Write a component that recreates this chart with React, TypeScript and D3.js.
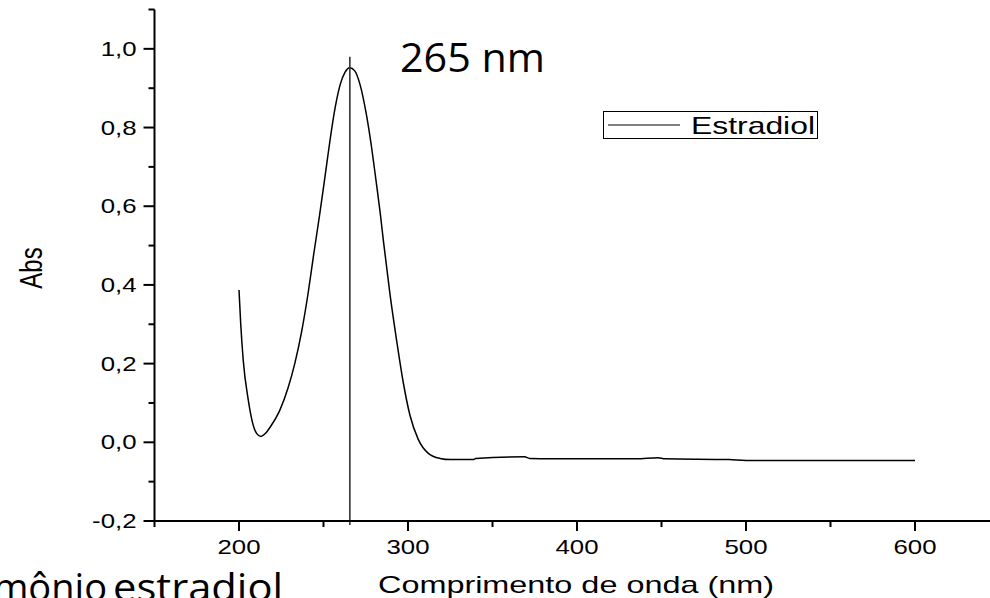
import React from "react";
import * as d3 from "d3";

const wavelength = [200, 201, 202.5, 205.5, 208, 210.5, 213, 215.5, 218.5, 224, 229, 233, 237, 241, 244, 247.5, 250, 252, 254, 257, 260, 262.7, 265.5, 268.5, 271.5, 275.5, 278.5, 281, 283.5, 285.5, 289.3, 293.3, 297.2, 301.2, 306, 312, 319, 325, 339, 340, 369, 372, 385, 435, 448, 452, 490, 500, 600];
const absorbance = [0.387, 0.302, 0.209, 0.107, 0.05, 0.022, 0.015, 0.022, 0.039, 0.08, 0.138, 0.2, 0.28, 0.382, 0.472, 0.572, 0.648, 0.71, 0.772, 0.853, 0.911, 0.94, 0.952, 0.944, 0.911, 0.83, 0.748, 0.668, 0.585, 0.51, 0.378, 0.258, 0.152, 0.068, 0.008, -0.028, -0.041, -0.044, -0.044, -0.041, -0.037, -0.041, -0.042, -0.042, -0.039, -0.042, -0.044, -0.046, -0.046];

const xMajorTicks = [200, 300, 400, 500, 600];
const xMinorTicks = [150, 250, 350, 450, 550, 650];
const yMajorTicks = [-0.2, 0, 0.2, 0.4, 0.6, 0.8, 1.0];
const yMinorTicks = [-0.1, 0.1, 0.3, 0.5, 0.7, 0.9, 1.1];
const peakNm = 265;
const peakLineRange = [-0.21, 0.98];
const seriesName = "Estradiol";
const peakLabel = "265 nm";
const xTitle = "Comprimento de onda (nm)";
const yTitle = "Abs";

const fmt = (v: number) => d3.format(".1f")(v).replace(".", ",").replace("−", "-");

export default function App() {
  const x = d3.scaleLinear().domain([150, 650]).range([154.5, 999.5]);
  const y = d3.scaleLinear().domain([-0.2, 1.1]).range([521, 9.5]);
  const pts: [number, number][] = wavelength.map((w, i) => [w, absorbance[i]]);
  const line = d3
    .line<[number, number]>()
    .x((d) => x(d[0]))
    .y((d) => y(d[1]))
    .curve(d3.curveMonotoneX);
  const sx = 1.29;
  const axisX = x(150);
  const axisY = y(-0.2);
  const arial = "'Liberation Sans', Arial, sans-serif";
  const calibri = "'Open Sans', 'Noto Sans', sans-serif";

  return (
    <svg
      width={990}
      height={598}
      style={{ position: "absolute", left: 0, top: 0, background: "#fff" }}
    >
      <rect x={0} y={0} width={990} height={598} fill="#fff" />
      {/* data curve */}
      <path d={line(pts) || ""} fill="none" stroke="#000" strokeWidth={1.5} />
      {/* peak marker line */}
      <line
        x1={x(peakNm) + 1}
        x2={x(peakNm) + 1}
        y1={y(peakLineRange[0])}
        y2={y(peakLineRange[1])}
        stroke="#333"
        strokeWidth={1.6}
      />
      {/* y axis */}
      <line x1={axisX} x2={axisX} y1={y(1.1)} y2={axisY + 1} stroke="#000" strokeWidth={2} />
      {yMajorTicks.map((t) => (
        <g key={"ym" + t}>
          <line x1={axisX - 11} x2={axisX} y1={y(t)} y2={y(t)} stroke="#000" strokeWidth={2} />
          <g transform={`translate(${axisX - 18},${y(t) + 7}) scale(${sx},1)`}>
            <text textAnchor="end" fontFamily={arial} fontSize={20} fill="#000">
              {fmt(t)}
            </text>
          </g>
        </g>
      ))}
      {yMinorTicks.map((t) => (
        <line key={"yn" + t} x1={axisX - 6} x2={axisX} y1={y(t)} y2={y(t)} stroke="#000" strokeWidth={2} />
      ))}
      {/* x axis */}
      <line x1={axisX - 1} x2={990} y1={axisY} y2={axisY} stroke="#000" strokeWidth={2} />
      {xMajorTicks.map((t) => (
        <g key={"xm" + t}>
          <line x1={x(t)} x2={x(t)} y1={axisY} y2={axisY + 10} stroke="#000" strokeWidth={2} />
          <g transform={`translate(${x(t)},${554}) scale(${sx},1)`}>
            <text textAnchor="middle" fontFamily={arial} fontSize={20} fill="#000">
              {t}
            </text>
          </g>
        </g>
      ))}
      {xMinorTicks.map((t) => (
        <line key={"xn" + t} x1={x(t)} x2={x(t)} y1={axisY} y2={axisY + 6} stroke="#000" strokeWidth={2} />
      ))}
      {/* axis titles */}
      <text
        x={378}
        y={593}
        fontFamily={arial}
        fontSize={24}
        textLength={396}
        lengthAdjust="spacingAndGlyphs"
        fill="#000"
      >
        {xTitle}
      </text>
      <g transform={`translate(42,268) scale(${sx},1) rotate(-90)`}>
        <text textAnchor="middle" fontFamily={arial} fontSize={24} fill="#000">
          {yTitle}
        </text>
      </g>
      {/* legend */}
      <rect x={603.5} y={111.5} width={214} height={27} fill="#fff" stroke="#000" strokeWidth={1} />
      <line x1={608} x2={680} y1={125} y2={125} stroke="#000" strokeWidth={1.2} />
      <text
        x={691}
        y={134}
        fontFamily={arial}
        fontSize={24.6}
        textLength={124}
        lengthAdjust="spacingAndGlyphs"
        fill="#000"
      >
        {seriesName}
      </text>
      {/* peak annotation */}
      <text
        x={400}
        y={72}
        fontFamily={calibri}
        fontSize={40}
        textLength={145}
        lengthAdjust="spacingAndGlyphs"
        fill="#000"
      >
        {peakLabel}
      </text>
      {/* caption clipped by the bottom edge, as in the reference */}
      <text x={107} y={601} textAnchor="end" fontFamily={calibri} fontSize={38} fill="#000">
        hormônio
      </text>
      <text
        x={113}
        y={601}
        fontFamily={calibri}
        fontSize={38}
        textLength={170}
        lengthAdjust="spacingAndGlyphs"
        fill="#000"
      >
        estradiol
      </text>
    </svg>
  );
}
